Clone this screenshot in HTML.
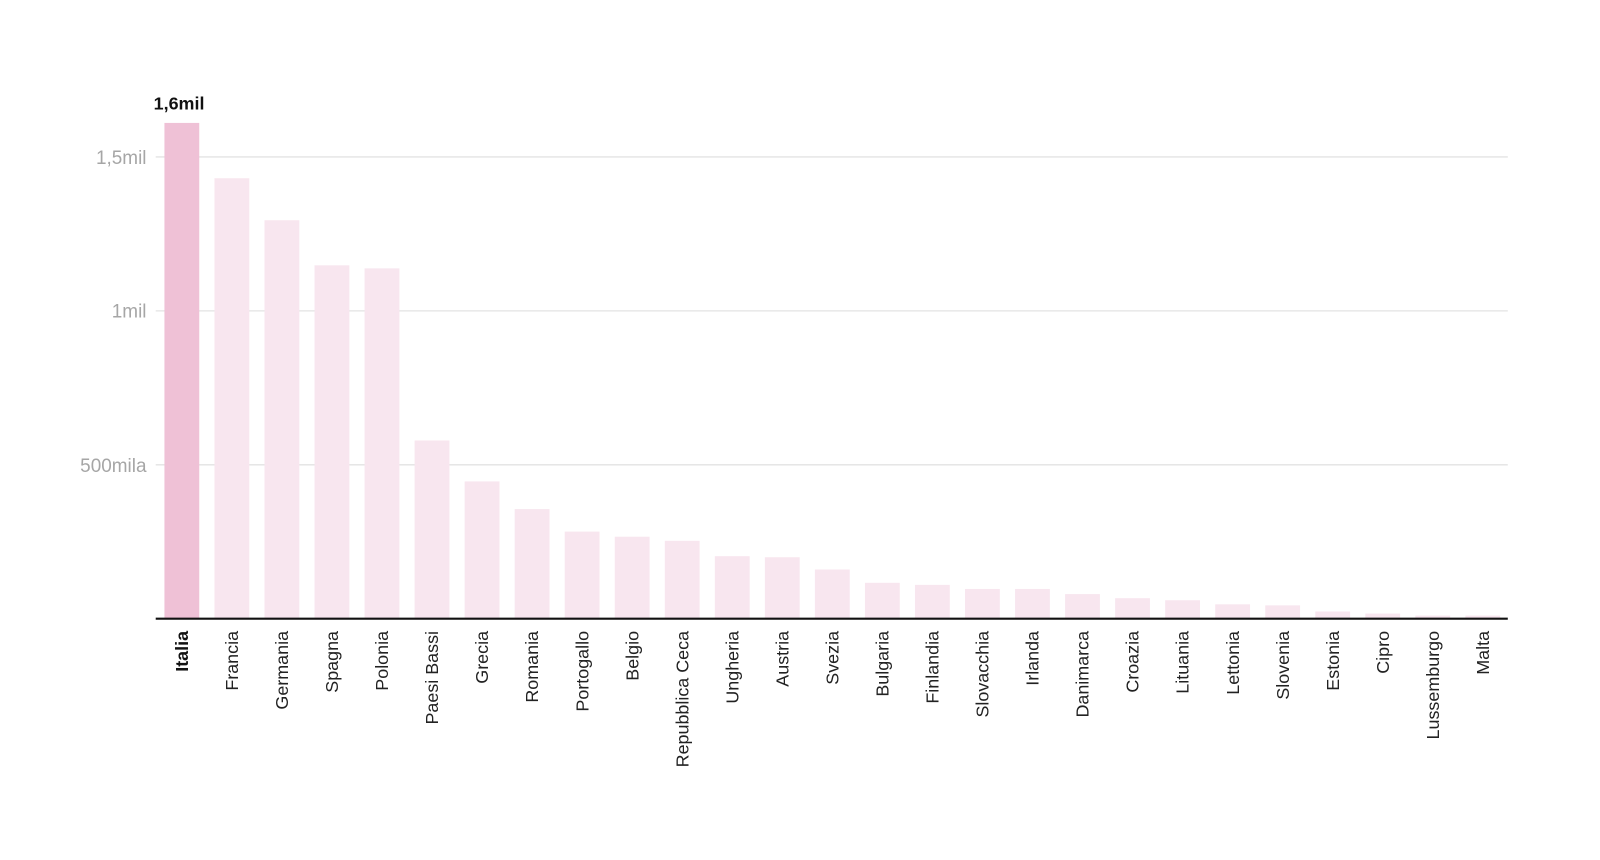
<!DOCTYPE html>
<html><head><meta charset="utf-8"><style>html,body{margin:0;padding:0;background:#fff}svg{display:block}</style></head>
<body>
<svg width="1600" height="860" viewBox="0 0 1562 839.6" xmlns="http://www.w3.org/2000/svg" font-family="Liberation Sans, Arial, sans-serif">
<g stroke="#e3e3e3" stroke-width="1.3">
<line x1="152" x2="1472" y1="153.2" y2="153.2"/>
<line x1="152" x2="1472" y1="303.5" y2="303.5"/>
<line x1="152" x2="1472" y1="453.8" y2="453.8"/>
</g>
<g fill="#a6a6a6" font-size="18.5" text-anchor="end">
<text x="143" y="160">1,5mil</text>
<text x="143" y="310">1mil</text>
<text x="143" y="461">500mila</text>
</g>
<text x="150" y="107" font-size="17.5" font-weight="bold" fill="#111">1,6mil</text>
<g id="bars"></g>
<line x1="152" x2="1472" y1="604" y2="604" stroke="#111" stroke-width="2"/>
<g id="labels" font-size="17.5" fill="#222"></g>
</svg>
<script>
var names=["Italia","Francia","Germania","Spagna","Polonia","Paesi Bassi","Grecia","Romania","Portogallo","Belgio","Repubblica Ceca","Ungheria","Austria","Svezia","Bulgaria","Finlandia","Slovacchia","Irlanda","Danimarca","Croazia","Lituania","Lettonia","Slovenia","Estonia","Cipro","Lussemburgo","Malta"];
var tops=[120,174,215,259,262,430,470,497,519,524,528,543,544,556,569,571,575,575,580,584,586,590,591,597,599,601,601];
var ns="http://www.w3.org/2000/svg",b=document.getElementById("bars"),l=document.getElementById("labels");
for(var i=0;i<27;i++){var x=160.5+i*48.85;
var r=document.createElementNS(ns,"rect");r.setAttribute("x",x);r.setAttribute("y",tops[i]);r.setAttribute("width",34);r.setAttribute("height",604-tops[i]);r.setAttribute("fill",i==0?"#efc1d6":"#f8e6ef");b.appendChild(r);
var t=document.createElementNS(ns,"text");var cx=x+17+6;t.setAttribute("transform","translate("+cx+",616) rotate(-90)");t.setAttribute("text-anchor","end");if(i==0){t.setAttribute("font-weight","bold");t.setAttribute("fill","#111");}t.textContent=names[i];l.appendChild(t);}
</script>
</body></html>
